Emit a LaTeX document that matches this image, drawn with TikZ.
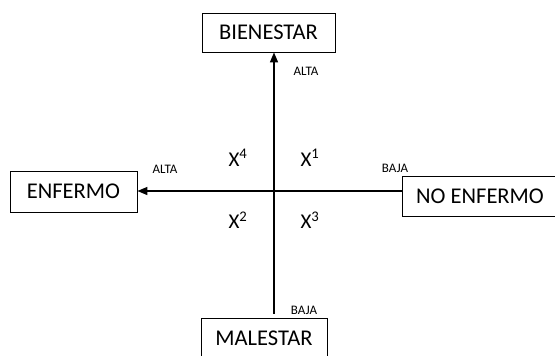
\documentclass[tikz,border=0pt]{standalone}
\usepackage{fontspec}
\setmainfont{Carlito}
\usepackage{tikz}
\usetikzlibrary{arrows.meta,calc}

\tikzset{
	caja/.style={draw, thick, inner sep=0pt, minimum height=40pt, font=\fontsize{22.5}{26}\selectfont},
	nivel/.style={font=\fontsize{13}{15}\selectfont},
	cuadrante/.style={font=\fontsize{21}{24}\selectfont},
	eje/.style={line width=1.4pt, -{Triangle[length=10pt,width=8pt]}}
}

\begin{document}
\begin{tikzpicture}[x=1pt, y=-1pt]
		\useasboundingbox (0,0) rectangle (555,356);
		\clip (0,0) rectangle (555,356);
		% las cuatro cajas
		\node[caja, minimum width=133pt, minimum height=39pt] (bienestar) at (268.5,32.5) {BIENESTAR};
		\node[caja, minimum width=127pt, minimum height=41pt] (enfermo) at (73.5,191.5) {ENFERMO};
		\node[caja, minimum width=156pt] (noenfermo) at (480,196) {NO ENFERMO};
		\node[caja, minimum width=126pt] (malestar) at (264,338) {MALESTAR};
		\coordinate (O) at (274,191);
		
		% ejes
		\draw[eje] ([yshift=4pt]O |- malestar.north) -- (O |- bienestar.south);
		\draw[eje] (O -| noenfermo.west) -- (O -| enfermo.east);
		
		% extremos de los ejes
		\node[nivel] (alta1) at (306,71) {ALTA};
		\node[nivel] (alta2) at (165,169) {ALTA};
		\node[nivel] (baja1) at (395,168) {BAJA};
		\node[nivel] (baja2) at (304,310) {BAJA};
		
		% cuadrantes
		\node[cuadrante] (x4) at (238,158) {X\textsuperscript{4}};
		\node[cuadrante] (x1) at (310,158) {X\textsuperscript{1}};
		\node[cuadrante] (x2) at (238,220) {X\textsuperscript{2}};
		\node[cuadrante] (x3) at (310,220) {X\textsuperscript{3}};
	\end{tikzpicture}
\end{document}
